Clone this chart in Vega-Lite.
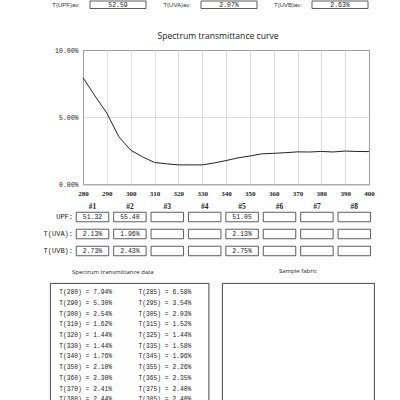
{
  "$schema": "https://vega.github.io/schema/vega-lite/v6.json",
  "background": "white",
  "padding": 0,
  "datasets": {
    "summary": [
      {"metric": "T(UPF)av:", "value": 52.59},
      {"metric": "T(UVA)av:", "value": 2.07},
      {"metric": "T(UVB)av:", "value": 2.63}
    ],
    "samples": [
      {"sample": "#1", "metric": "UPF:", "value": 51.32},
      {"sample": "#2", "metric": "UPF:", "value": 55.40},
      {"sample": "#3", "metric": "UPF:", "value": null},
      {"sample": "#4", "metric": "UPF:", "value": null},
      {"sample": "#5", "metric": "UPF:", "value": 51.05},
      {"sample": "#6", "metric": "UPF:", "value": null},
      {"sample": "#7", "metric": "UPF:", "value": null},
      {"sample": "#8", "metric": "UPF:", "value": null},
      {"sample": "#1", "metric": "T(UVA):", "value": 2.13},
      {"sample": "#2", "metric": "T(UVA):", "value": 1.96},
      {"sample": "#3", "metric": "T(UVA):", "value": null},
      {"sample": "#4", "metric": "T(UVA):", "value": null},
      {"sample": "#5", "metric": "T(UVA):", "value": 2.13},
      {"sample": "#6", "metric": "T(UVA):", "value": null},
      {"sample": "#7", "metric": "T(UVA):", "value": null},
      {"sample": "#8", "metric": "T(UVA):", "value": null},
      {"sample": "#1", "metric": "T(UVB):", "value": 2.73},
      {"sample": "#2", "metric": "T(UVB):", "value": 2.43},
      {"sample": "#3", "metric": "T(UVB):", "value": null},
      {"sample": "#4", "metric": "T(UVB):", "value": null},
      {"sample": "#5", "metric": "T(UVB):", "value": 2.75},
      {"sample": "#6", "metric": "T(UVB):", "value": null},
      {"sample": "#7", "metric": "T(UVB):", "value": null},
      {"sample": "#8", "metric": "T(UVB):", "value": null}
    ],
    "spectrum": [
      {"nm": 280, "T": 7.94}, {"nm": 285, "T": 6.58}, {"nm": 290, "T": 5.30}, {"nm": 295, "T": 3.54},
      {"nm": 300, "T": 2.54}, {"nm": 305, "T": 2.03}, {"nm": 310, "T": 1.62}, {"nm": 315, "T": 1.52},
      {"nm": 320, "T": 1.44}, {"nm": 325, "T": 1.44}, {"nm": 330, "T": 1.44}, {"nm": 335, "T": 1.58},
      {"nm": 340, "T": 1.76}, {"nm": 345, "T": 1.96}, {"nm": 350, "T": 2.10}, {"nm": 355, "T": 2.26},
      {"nm": 360, "T": 2.30}, {"nm": 365, "T": 2.35}, {"nm": 370, "T": 2.41}, {"nm": 375, "T": 2.40},
      {"nm": 380, "T": 2.44}, {"nm": 385, "T": 2.40}, {"nm": 390, "T": 2.47}, {"nm": 395, "T": 2.44},
      {"nm": 400, "T": 2.43}
    ]
  },
  "config": {
    "view": {"stroke": null},
    "axis": {"labelColor": "#222", "domain": false, "ticks": false},
    "title": {"color": "#222", "fontWeight": "normal"}
  },
  "spacing": 22,
  "bounds": "full",
  "vconcat": [
    {
      "width": 350.5,
      "height": 7.5,
      "data": {"name": "summary"},
      "transform": [
        {"calculate": "datum.metric == 'T(UPF)av:' ? format(datum.value, '.2f') : format(datum.value, '.2f') + '%'", "as": "shown"}
      ],
      "encoding": {
        "x": {"field": "metric", "type": "nominal", "sort": null, "axis": null,
              "scale": {"type": "point", "range": [68, 290], "padding": 0}}
      },
      "layer": [
        {"mark": {"type": "bar", "width": 56, "fill": "white", "stroke": "#333", "strokeWidth": 0.8}},
        {"mark": {"type": "text", "font": "Liberation Mono", "fontSize": 6.5, "color": "#222"},
         "encoding": {"text": {"field": "shown"}}},
        {"mark": {"type": "text", "align": "right", "dx": -38, "font": "Liberation Sans", "fontSize": 6, "color": "#333"},
         "encoding": {"text": {"field": "metric"}}}
      ]
    },
    {
      "spacing": 5,
      "bounds": "full",
      "vconcat": [
        {
          "columns": 2,
          "align": "each",
          "spacing": 0,
          "bounds": "full",
          "concat": [
            {
              "width": 1,
              "height": 1,
              "data": {"values": [{"note": ""}]},
              "mark": {"type": "text"},
              "encoding": {"text": {"field": "note"}}
            },
            {
              "width": 286,
              "height": 134.2,
              "view": {"stroke": "#333", "strokeWidth": 1},
              "title": {"text": "Spectrum transmittance curve", "fontSize": 8.6, "font": "Open Sans", "offset": 6, "dx": -8, "frame": "group"},
              "data": {"name": "spectrum"},
              "mark": {"type": "line", "color": "#222", "strokeWidth": 1},
              "encoding": {
                "x": {"field": "nm", "type": "quantitative",
                      "scale": {"domain": [280, 400], "nice": false, "zero": false},
                      "axis": {"title": null, "values": [280, 290, 300, 310, 320, 330, 340, 350, 360, 370, 380, 390, 400],
                               "grid": true, "gridColor": "#d0d0d0", "gridWidth": 0.7, "labelPadding": 5,
                               "labelFont": "Liberation Serif", "labelFontWeight": "bold", "labelFontSize": 7, "labelFlush": false}},
                "y": {"field": "T", "type": "quantitative",
                      "scale": {"domain": [0, 10], "nice": false},
                      "axis": {"title": null, "values": [0, 5, 10], "labelExpr": "format(datum.value, '.2f') + '%'",
                               "grid": true, "gridColor": "#d0d0d0", "gridWidth": 0.7, "labelPadding": 5,
                               "minExtent": 31, "maxExtent": 31,
                               "labelFont": "Liberation Mono", "labelFontSize": 6.5, "labelFlush": false}}
              }
            }
          ]
        },
        {
          "spacing": 10,
          "bounds": "full",
          "vconcat": [
            {
              "width": 324,
              "height": 46,
              "data": {"name": "samples"},
              "transform": [
                {"calculate": "datum.value == null ? '' : (datum.metric == 'UPF:' ? format(datum.value, '.2f') : format(datum.value, '.2f') + '%')", "as": "shown"}
              ],
              "encoding": {
                "x": {"field": "sample", "type": "nominal", "sort": null,
                      "scale": {"paddingInner": 0.131, "paddingOuter": 0.397, "align": 0.884},
                      "axis": {"orient": "top", "title": null, "labelAngle": 0, "labelPadding": 0.5,
                               "labelFont": "Liberation Serif", "labelFontWeight": "bold", "labelFontSize": 7.5}},
                "y": {"field": "metric", "type": "nominal", "sort": null,
                      "scale": {"paddingInner": 0.44, "paddingOuter": 0.074},
                      "axis": {"title": null, "labelPadding": -22.5,
                               "labelFont": "Liberation Mono", "labelFontSize": 7}}
              },
              "layer": [
                {"mark": {"type": "rect", "fill": "white", "stroke": "#333", "strokeWidth": 0.8}},
                {"mark": {"type": "text", "font": "Liberation Mono", "fontSize": 6.5, "color": "#222"},
                 "encoding": {"text": {"field": "shown"}}}
              ]
            },
            {
              "spacing": 12,
              "bounds": "full",
              "hconcat": [
                {
                  "width": 158.5,
                  "height": 125.6,
                  "view": {"stroke": "#333", "strokeWidth": 0.9},
                  "title": {"text": "Spectrum transmittance data", "fontSize": 6, "font": "Open Sans", "anchor": "start", "frame": "group", "dx": 22, "offset": 8.5},
                  "data": {"name": "spectrum"},
                  "transform": [
                    {"filter": "datum.nm <= 385"},
                    {"calculate": "floor((datum.nm - 280) / 10)", "as": "row"},
                    {"calculate": "datum.nm % 10 == 0 ? 'left' : 'right'", "as": "col"},
                    {"calculate": "'T(' + datum.nm + ') = ' + format(datum.T, '.2f') + '%'", "as": "label"}
                  ],
                  "mark": {"type": "text", "align": "left", "dx": -30.5, "font": "Liberation Mono", "fontSize": 6.3, "color": "#222"},
                  "encoding": {
                    "x": {"field": "col", "type": "nominal",
                          "scale": {"paddingInner": 0, "paddingOuter": 0}, "axis": null},
                    "y": {"field": "row", "type": "ordinal",
                          "scale": {"type": "band", "paddingInner": 0, "paddingOuter": 0.37},
                          "axis": {"title": null, "labels": false, "ticks": false, "domain": false,
                                   "minExtent": 49.5, "maxExtent": 49.5}},
                    "text": {"field": "label"}
                  }
                },
                {
                  "width": 152,
                  "height": 125.6,
                  "view": {"stroke": "#333", "strokeWidth": 0.9},
                  "title": {"text": "Sample fabric", "fontSize": 6, "font": "Open Sans", "offset": 9.5},
                  "data": {"values": [{"note": ""}]},
                  "mark": {"type": "text"},
                  "encoding": {"text": {"field": "note"}}
                }
              ]
            }
          ]
        }
      ]
    }
  ]
}
